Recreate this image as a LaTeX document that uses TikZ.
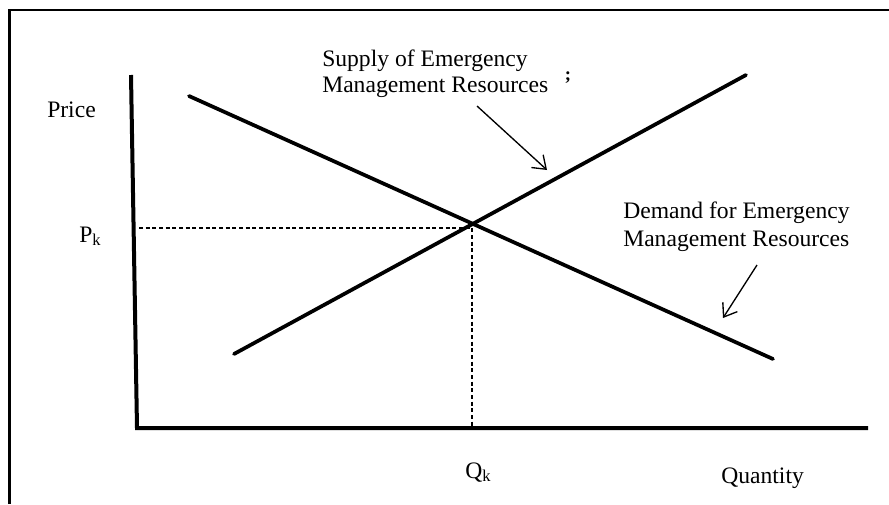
\documentclass[tikz,border=0pt]{standalone}
\usepackage{fontspec}
\setmainfont{Liberation Serif}
\usetikzlibrary{positioning,arrows.meta}

\tikzset{
	axis/.style={line width=3pt},
	curve/.style={line width=2.8pt, line cap=round},
	guide/.style={line width=0.8pt, dash pattern=on 3pt off 2pt},
	pointer/.style={line width=1pt, -{Straight Barb[length=9pt,width=13pt]}},
	lbl/.style={inner sep=0pt, anchor=base west, font=\fontsize{17.7}{20}\selectfont},
}

\begin{document}
\begin{tikzpicture}[x=0.75pt, y=-0.75pt]
		\useasboundingbox (0,0) rectangle (889,504);
		\draw [line width=1.7pt] (9.5,504) -- (9.5,10) -- (889,10);
		
		\coordinate (price-top) at (131,75);
		\coordinate (origin) at (137,428);
		\coordinate (quantity-end) at (868,428);
		\draw [axis] (price-top) -- (origin) -- (quantity-end);
		
		\coordinate (demand-start) at (189,96);
		\coordinate (demand-end) at (773,359);
		\coordinate (supply-start) at (234,354);
		\coordinate (supply-end) at (746,75);
		\draw [curve] (demand-start) -- (demand-end);
		\draw [curve] (supply-start) -- (supply-end);
		
		\coordinate (pk) at (139,228);
		\coordinate (eq) at (472,228);
		\coordinate (qk) at (472,426);
		\draw [guide] (pk) -- (eq) -- (qk);
		
		\foreach \t/\x/\y/\n in {Price/47/117/price-label, P\textsubscript{k}/79/242/pk-label,
			Q\textsubscript{k}/465/478/qk-label, Quantity/721/483/quantity-label}
		\node [lbl] (\n) at (\x,\y) {\t};
		
		\node [lbl, align=left, font=\fontsize{17.7}{18.8}\selectfont] (supply-label) at (322,92)
		{Supply of Emergency\\Management Resources};
		\node [inner sep=0pt, font=\fontsize{14}{14}\bfseries] (supply-mark) at (568,78) {;};
		\node [lbl, align=left, font=\fontsize{17.7}{20.3}\selectfont] (demand-label) at (623,246)
		{Demand for Emergency\\Management Resources};
		
		\coordinate (supply-tip) at (547,170);
		\coordinate (demand-tip) at (723,318);
		\draw [pointer] (477,106) -- (supply-tip);
		\draw [pointer] (757,265) -- (demand-tip);
		
	\end{tikzpicture}
\end{document}
